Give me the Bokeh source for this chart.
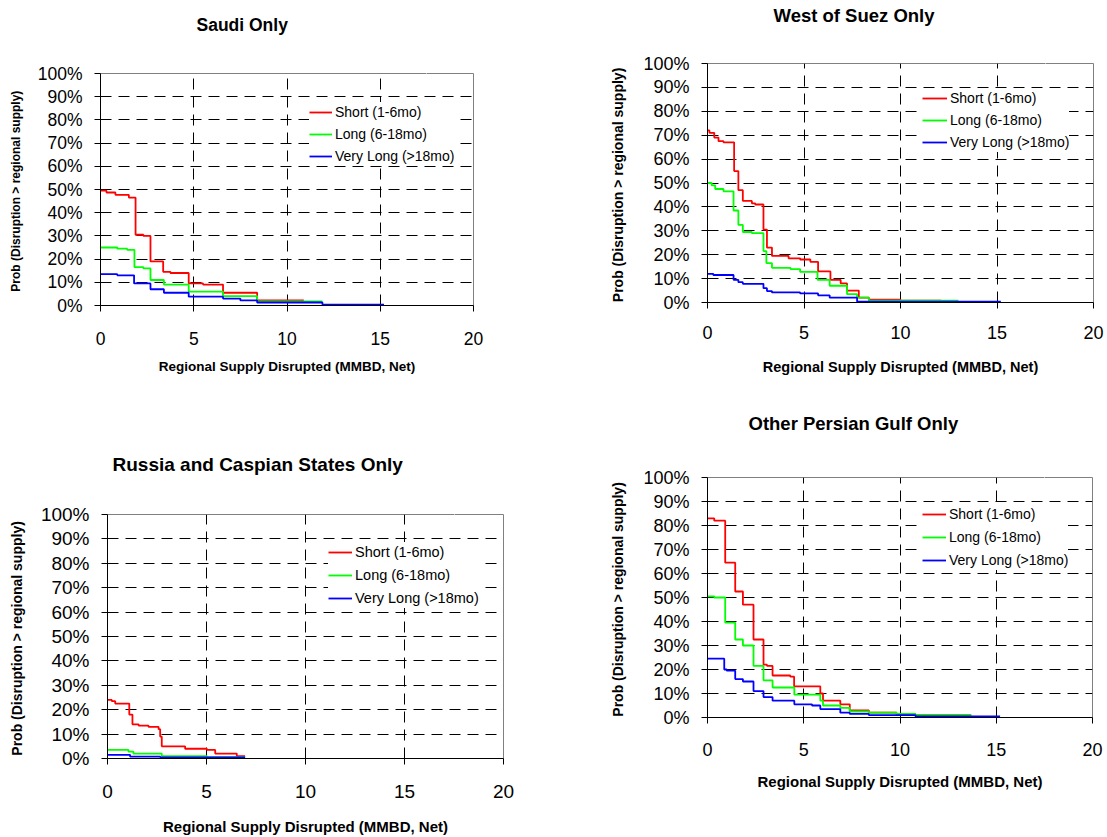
from bokeh.plotting import figure
from bokeh.layouts import row, column
from bokeh.models import FixedTicker, PrintfTickFormatter, Range1d, LinearAxis, Title
from bokeh.embed import file_html
from bokeh.resources import INLINE

# ---------------- data ----------------
x_ticks = [0, 5, 10, 15, 20]
y_ticks = [0, 10, 20, 30, 40, 50, 60, 70, 80, 90, 100]
series_names = ["Short (1-6mo)", "Long (6-18mo)", "Very Long (>18mo)"]
series_colors = ["#FF0000", "#00FF00", "#0000FF"]
x_label = "Regional Supply Disrupted (MMBD, Net)"
y_label = "Prob (Disruption >  regional supply)"

titles = ["Saudi Only", "West of Suez Only", "Russia and Caspian States Only", "Other Persian Gulf Only"]

# Saudi Only
saudi_short_x = [0, 0.32, 0.8, 1.52, 1.88, 2.3, 2.68, 3.36, 3.75, 4.73, 5.5, 6.57, 8.4, 10.9]
saudi_short_y = [49.5, 48.7, 47.7, 46.5, 30.5, 30.0, 19.0, 14.5, 14.0, 9.5, 9.0, 5.5, 2.2, 2.2]
saudi_long_x = [0, 0.9, 1.43, 1.82, 2.3, 2.68, 3.4, 4.73, 6.57, 8.4, 11.9]
saudi_long_y = [25.0, 24.5, 24.0, 16.5, 16.0, 11.0, 9.0, 6.0, 4.0, 1.8, 1.8]
saudi_vlong_x = [0, 0.9, 1.8, 2.68, 3.4, 4.73, 6.57, 7.5, 8.4, 11.9, 15.2]
saudi_vlong_y = [13.5, 13.0, 9.5, 7.0, 5.5, 3.8, 3.0, 2.2, 1.3, 0.4, 0.4]

# West of Suez Only
wos_short_x = [0, 0.1, 0.35, 0.57, 0.83, 1.38, 1.6, 1.83, 2.3, 2.47, 2.9, 3.08, 3.34, 4.2, 4.8,
               5.33, 5.73, 6.37, 6.9, 7.23, 7.84, 8.36, 10.0, 12.1]
wos_short_y = [72, 71, 69, 67.5, 67, 55, 47, 42.5, 41.5, 41, 30.5, 23, 19.5, 18.5, 18,
               17, 13, 9.5, 8, 5, 2, 1.2, 0.8, 0.8]
wos_long_x = [0, 0.22, 0.4, 0.83, 1.35, 1.6, 1.83, 2.3, 2.9, 3.05, 3.34, 4.3, 4.8, 5.7, 6.33,
              7.23, 7.75, 8.36, 13.0]
wos_long_y = [50, 49, 47.5, 46.5, 38.5, 32.5, 29.5, 29, 21.5, 16.5, 14.5, 14, 12.8, 9.5, 7,
              3.5, 2, 0.8, 0.8]
wos_vlong_x = [0, 0.3, 1.35, 1.6, 1.83, 2.9, 3.08, 3.34, 4.8, 5.73, 6.33, 7.75, 15.2]
wos_vlong_y = [12, 11.5, 9.5, 8.5, 7.8, 6, 4.8, 4.2, 3.8, 3, 2, 0.4, 0.4]

# Russia and Caspian States Only
rus_short_x = [0, 0.22, 0.39, 1.1, 1.26, 1.57, 2.07, 2.58, 2.66, 2.74, 3.92, 5.02, 5.44, 6.53, 6.95]
rus_short_y = [24, 23.5, 22.5, 18, 14, 13.5, 13, 12, 9, 5, 4, 3.5, 2, 1, 1]
rus_long_x = [0, 1.06, 1.31, 2.74, 5.02, 6.95]
rus_long_y = [3.5, 2.8, 2, 1, 0.6, 0.6]
rus_vlong_x = [0, 1.14, 2.66, 6.95]
rus_vlong_y = [1.5, 0.8, 0.5, 0.5]

# Other Persian Gulf Only
opg_short_x = [0, 0.35, 0.92, 1.44, 1.84, 2.39, 2.91, 3.09, 3.38, 4.3, 4.5, 5.86, 6.0, 6.9, 7.39,
               8.38, 9.82, 10.8, 13.7]
opg_short_y = [83, 82, 64.5, 52.5, 47, 32.5, 22, 21.5, 17.5, 17, 13, 10, 7, 5.5, 3,
               2, 1.5, 1, 1]
opg_long_x = [0, 0.35, 0.92, 1.44, 1.84, 2.39, 2.91, 3.38, 4.51, 5.86, 6.0, 6.9, 7.39, 8.38,
              9.82, 10.8, 13.7]
opg_long_y = [50.5, 50, 39.5, 32.5, 30, 21.5, 15.5, 12.5, 9.5, 7, 5, 4, 2.5, 2,
              1.5, 1, 1]
opg_vlong_x = [0, 0.87, 1.0, 1.44, 1.84, 2.39, 2.91, 3.38, 4.51, 5.43, 5.86, 6.9, 7.39, 8.38,
               10.8, 15.2]
opg_vlong_y = [24.5, 20, 19.5, 16, 15, 11, 8.5, 7, 5.5, 5, 3.5, 2, 1.5, 1,
               0.5, 0.5]

panel_series = [
    [(saudi_short_x, saudi_short_y), (saudi_long_x, saudi_long_y), (saudi_vlong_x, saudi_vlong_y)],
    [(wos_short_x, wos_short_y), (wos_long_x, wos_long_y), (wos_vlong_x, wos_vlong_y)],
    [(rus_short_x, rus_short_y), (rus_long_x, rus_long_y), (rus_vlong_x, rus_vlong_y)],
    [(opg_short_x, opg_short_y), (opg_long_x, opg_long_y), (opg_vlong_x, opg_vlong_y)],
]

# ---------------- layout / style ----------------
FONT = "Liberation Sans"
panel_styles = [
    dict(w=553, h=400, left=100, right=80, top=73, bottom=95, tick_fs=17.5, xl_fs=13.5, yl_fs=12,
         x_std=20, xl_std=11, yl_std=12, leg=(209, 139), leg_sp=2, glyph_w=23, leg_fs=14,
         title_fs=17.5, title_off=96, title_gap=39),
    dict(w=554, h=400, left=154, right=14, top=63, bottom=98, tick_fs=18, xl_fs=14.5, yl_fs=14,
         x_std=17, xl_std=17, yl_std=14, leg=(215, 150), leg_sp=2, glyph_w=25, leg_fs=14,
         title_fs=18.5, title_off=66, title_gap=38),
    dict(w=553, h=437, left=107, right=50, top=114, bottom=77, tick_fs=19, xl_fs=15, yl_fs=14,
         x_std=20, xl_std=17, yl_std=13, leg=(221, 150), leg_sp=3, glyph_w=24, leg_fs=14.5,
         title_fs=19, title_off=5, title_gap=40),
    dict(w=554, h=437, left=154, right=15, top=77, bottom=120, tick_fs=18, xl_fs=15, yl_fs=14,
         x_std=19, xl_std=14, yl_std=14, leg=(215, 147), leg_sp=3, glyph_w=24, leg_fs=14,
         title_fs=18.5, title_off=41, title_gap=44),
]


def make_panel(title, series, st):
    p = figure(width=st["w"], height=st["h"], output_backend="svg", toolbar_location=None,
               x_range=Range1d(0, 20), y_range=Range1d(0, 100),
               min_border_left=st["left"], min_border_right=st["right"],
               min_border_top=st["top"], min_border_bottom=st["bottom"])
    p.background_fill_color = "white"
    p.border_fill_color = "white"
    p.outline_line_color = "#808080"
    p.outline_line_width = 1
    p.title.text = ""

    for (xs, ys), name, col in zip(series, series_names, series_colors):
        p.step(xs, ys, mode="after", line_color=col, line_width=1.8, legend_label=name)

    # axes
    p.xaxis.ticker = FixedTicker(ticks=x_ticks)
    p.yaxis.ticker = FixedTicker(ticks=y_ticks)
    p.yaxis.formatter = PrintfTickFormatter(format="%d%%")
    for ax in (p.xaxis[0], p.yaxis[0]):
        ax.axis_line_color = "black"
        ax.axis_line_width = 1
        ax.major_tick_line_color = "black"
        ax.major_tick_in = 0
        ax.major_tick_out = 6
        ax.minor_tick_line_color = None
        ax.major_label_text_font = FONT
        ax.major_label_text_font_size = f"{st['tick_fs']}px"
        ax.major_label_text_color = "black"
        ax.axis_label_text_font = FONT
        ax.axis_label_text_font_style = "bold"
        ax.axis_label_text_color = "black"
    p.xaxis.axis_label = x_label
    p.xaxis.axis_label_text_font_size = f"{st['xl_fs']}px"
    p.xaxis.major_label_standoff = st["x_std"]
    p.xaxis.axis_label_standoff = st["xl_std"]
    p.yaxis.axis_label = y_label
    p.yaxis.axis_label_text_font_size = f"{st['yl_fs']}px"
    p.yaxis.major_label_standoff = 12
    p.yaxis.axis_label_standoff = st["yl_std"]

    # blank spacer band just above the frame (a single white tick, no line, no label),
    # so that the title sits higher above the plot area
    spacer = LinearAxis(ticker=FixedTicker(ticks=[17.5]), axis_line_color=None,
                        major_tick_line_color="white", minor_tick_line_color=None,
                        major_tick_in=0, major_tick_out=st["title_gap"],
                        minor_tick_in=0, minor_tick_out=0, major_label_standoff=0,
                        major_label_overrides={17.5: ""}, major_label_text_font_size="1px")
    p.add_layout(spacer, "above")

    # title, outside the spacer band
    t = Title(text=title, align="left", offset=st["title_off"], vertical_align="bottom",
              standoff=0, text_font=FONT, text_font_style="bold",
              text_font_size=f"{st['title_fs']}px", text_color="black")
    p.add_layout(t, "above")

    # grid
    for g in (p.xgrid[0], p.ygrid[0]):
        g.grid_line_color = "black"
        g.grid_line_dash = "11 7"
        g.grid_line_width = 1

    # legend
    lg = p.legend[0]
    lg.location = st["leg"]
    lg.border_line_color = None
    lg.background_fill_color = "white"
    lg.background_fill_alpha = 1
    lg.padding = 5
    lg.margin = 0
    lg.spacing = st["leg_sp"]
    lg.glyph_height = 20
    lg.glyph_width = st["glyph_w"]
    lg.label_height = 20
    lg.label_standoff = 3
    lg.label_text_font = FONT
    lg.label_text_font_size = f"{st['leg_fs']}px"
    lg.label_text_color = "black"
    return p


figs = [make_panel(t, s, st) for t, s, st in zip(titles, panel_series, panel_styles)]
layout = column(row(column(figs[0]), column(figs[1])), row(column(figs[2]), column(figs[3])))

open("out.html", "w").write(file_html(layout, INLINE))
